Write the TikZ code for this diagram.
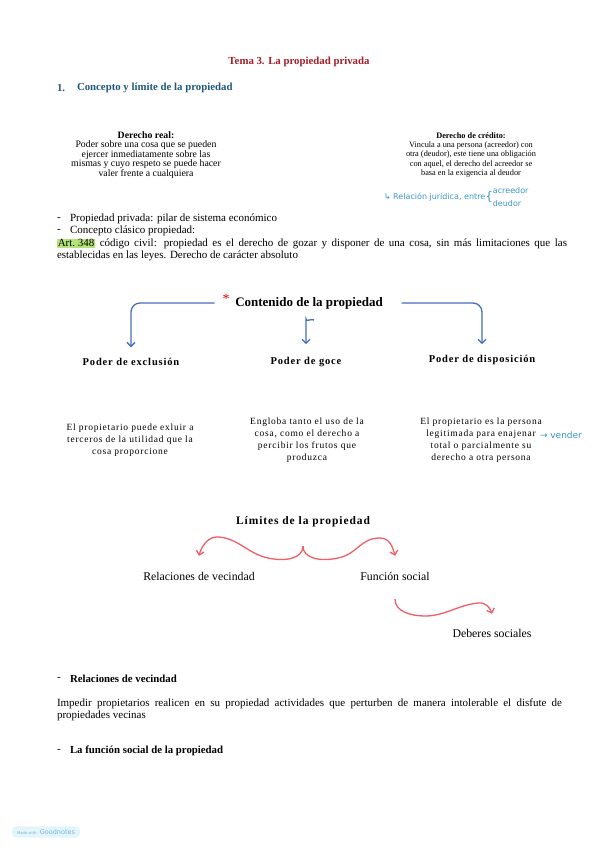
\documentclass[tikz,border=0pt]{standalone}
\usepackage{fontspec}
\setmainfont{Liberation Serif}
\newfontfamily\wideserif[LetterSpace=8]{Liberation Serif}
\newfontfamily\handfont{DejaVu Sans}
\usetikzlibrary{arrows.meta, positioning, calc}

\definecolor{titlered}{RGB}{165,30,40}
\definecolor{headblue}{RGB}{30,90,125}
\definecolor{arrowblue}{RGB}{70,110,185}
\definecolor{curvered}{RGB}{240,95,105}
\definecolor{penblue}{RGB}{60,150,200}
\definecolor{marker}{RGB}{180,228,120}
\definecolor{wmfill}{RGB}{228,245,250}

\begin{document}
\begin{tikzpicture}[
    x=1pt, y=-1pt,
    every node/.style={inner sep=0pt, outer sep=0pt},
    % texto normal
    body/.style={font=\fontsize{11}{13}\selectfont, anchor=west},
    head/.style={font=\bfseries\fontsize{10.8}{13}\selectfont},
    small/.style={font=\fontsize{9.8}{9.6}\selectfont, align=center},
    tiny/.style={font=\fontsize{8.3}{9.2}\selectfont, align=center},
    desc/.style={font=\wideserif\fontsize{9.5}{12}\selectfont, align=center},
    poder/.style={font=\wideserif\bfseries\fontsize{10.5}{12}\selectfont},
    item/.style={font=\fontsize{11.8}{13}\selectfont},
    note/.style={font=\handfont\fontsize{8}{8}\selectfont, text=penblue},
    % flechas
    bluearrow/.style={draw=arrowblue, line width=1.3pt, -{Straight Barb[length=4pt,width=8pt]}, rounded corners=9pt},
    redcurve/.style={draw=curvered, line width=1.3pt, -{Straight Barb[length=4pt,width=8pt]}}
]
\useasboundingbox[fill=white] (0,0) rectangle (599,848);

% 1. cabecera
\node [head, text=titlered] (title) at (299,62) {Tema 3. La propiedad privada};
\node [head, text=headblue, anchor=west] (num) at (57,88) {1.};
\node [head, text=headblue, anchor=west] (sec) at (77,88) {Concepto y límite de la propiedad};

\node [small] (real) at (146,155) {\textbf{Derecho real:}\\Poder sobre una cosa que se pueden\\ejercer inmediatamente sobre las\\mismas y cuyo respeto se puede hacer\\valer frente a cualquiera};
\node [tiny] (credito) at (471,155) {\textbf{Derecho de crédito:}\\Vincula a una persona (acreedor) con\\otra (deudor), este tiene una obligación\\con aquel, el derecho del acreedor se\\basa en la exigencia al deudor};

\node [note, anchor=west] (rel) at (384,197) {↳ Relación jurídica, entre};
\node [note, anchor=west, font=\handfont\fontsize{12}{12}\selectfont] (brace) at (rel.east) {\{};
\node [note, anchor=west] (acre) at ([yshift=6.5pt]brace.east) {acreedor};
\node [note, anchor=west] (deud) at ([yshift=-6.5pt]brace.east) {deudor};

\node [body] (b1) at (57,219) {-};
\node [body] (p1) at (70,219) {Propiedad privada: pilar de sistema económico};
\node [body] (b2) at (57,231) {-};
\node [body] (p2) at (70,231) {Concepto clásico propiedad:};
\node [body] (art) at (57,244) {\makebox[510pt][s]{\setlength{\fboxsep}{0.8pt}\colorbox{marker}{Art.~348} código civil: propiedad es el derecho de gozar y disponer de una cosa, sin más limitaciones que las}};
\node [body] (art3) at (57,256) {establecidas en las leyes. Derecho de carácter absoluto};

% 2. contenido
\node [font=\bfseries\fontsize{13}{15}\selectfont] (cont) at (309,303) {Contenido de la propiedad};
\node [text=red!85!black, font=\fontsize{14}{14}\selectfont] (ast) at (226,299) {*};

\node [poder] (excl) at (131,362) {Poder de exclusión};
\node [poder] (goce) at (306,362) {Poder de goce};
\node [poder] (disp) at (482,360) {Poder de disposición};

\draw [bluearrow, shorten >=11pt] ([shift={(-8pt,-4pt)}]ast.west) -| (excl.north);
\draw [bluearrow, shorten >=11pt] ([xshift=19pt]cont.east) -| (disp.north);
\draw [bluearrow] ([shift={(5pt,-11pt)}]cont.south) .. controls +(-4,-1) and +(0,-6) .. ++(-8,8) -- ([yshift=13pt]goce.north);

\node [desc] (d1) at (130,440) {El propietario puede exluir a\\terceros de la utilidad que la\\cosa proporcione};
\node [desc] (d2) at (307,440) {Engloba tanto el uso de la\\cosa, como el derecho a\\percibir los frutos que\\produzca};
\node [desc] (d3) at (481,440.5) {El propietario es la persona\\legitimada para enajenar\\total o parcialmente su\\derecho a otra persona};
\node [note, anchor=west, font=\handfont\fontsize{9}{9}\selectfont] (vender) at (540,435) {→ vender};

% 3. limites
\node [font=\wideserif\bfseries\fontsize{11.5}{13}\selectfont] (lim) at (303,522) {Límites de la propiedad};
\node [item] (relv) at (199,576) {Relaciones de vecindad};
\node [item] (func) at (395,576) {Función social};
\node [item] (deb) at (492,633) {Deberes sociales};

\coordinate (cusp) at ([yshift=-19pt]lim.south);
\draw [redcurve] (cusp) .. controls +(0,12) and +(18,4) .. (268,558)
    .. controls +(-20,-4) and +(20,0) .. (217,537)
    .. controls +(-10,0) and +(2,-8) .. ([yshift=16pt]relv.north);
\draw [redcurve] (cusp) .. controls +(0,12) and +(-18,4) .. (338,558)
    .. controls +(20,-4) and +(-20,0) .. (380,538)
    .. controls +(10,0) and +(-2,-8) .. ([yshift=16pt]func.north);
\draw [redcurve] ([yshift=-19pt]func.south) .. controls +(0,12) and +(-15,0) .. (425,616)
    .. controls +(20,0) and +(-20,2) .. (478,603)
    .. controls +(8,-1) and +(-2,-6) .. ([yshift=15pt]deb.north);

% 4. apartados
\node [body] (b3) at (57,679) {-};
\node [body, font=\bfseries\fontsize{10.8}{13}\selectfont] (rv) at (70,679) {Relaciones de vecindad};
\node [body] (imp1) at (57,704) {\makebox[505pt][s]{Impedir propietarios realicen en su propiedad actividades que perturben de manera intolerable el disfute de}};
\node [body] (imp2) at (57,716) {propiedades vecinas};
\node [body] (b4) at (57,751) {-};
\node [body, font=\bfseries\fontsize{10.8}{13}\selectfont] (fs) at (70,751) {La función social de la propiedad};

\node [fill=wmfill, rounded corners=4pt, inner xsep=5pt, inner ysep=3pt, text=penblue!70, font=\handfont] (wm) at (46,832) {{\fontsize{3.8}{4}\selectfont Made with} {\fontsize{6.5}{7}\selectfont Goodnotes}};

\end{tikzpicture}
\end{document}
